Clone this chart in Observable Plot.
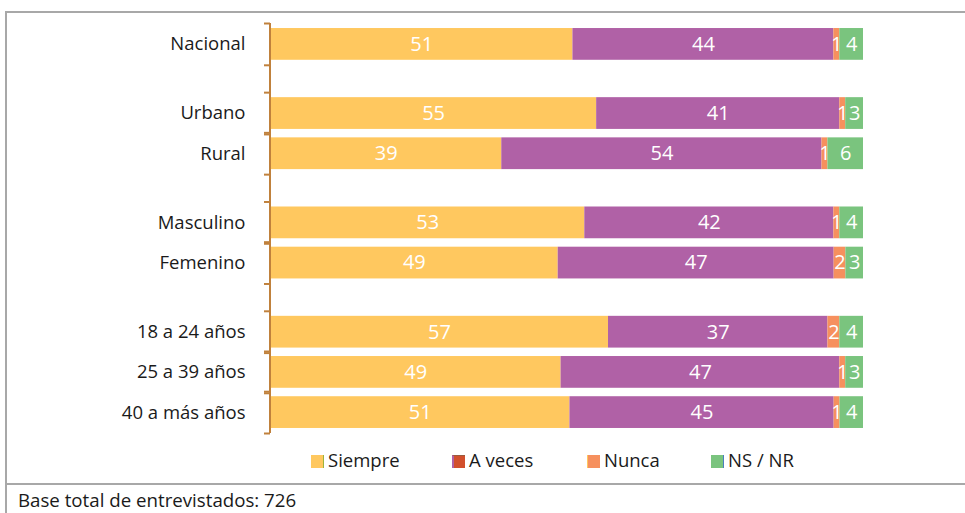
<!DOCTYPE html>
<html><head><meta charset="utf-8">
<script src="https://cdn.jsdelivr.net/npm/d3@7"></script>
<script src="https://cdn.jsdelivr.net/npm/@observablehq/plot@0.6"></script>
<style>
body{margin:0;background:#fff;font-family:"Open Sans",sans-serif;color:#1a1a1a;}
#wrap{position:relative;width:965px;height:513px;overflow:hidden;background:#fff;}
#chart{position:absolute;left:0;top:0;}
.hl{position:absolute;height:2px;background:#A8A8A8;}
.vl{position:absolute;width:2px;background:#A8A8A8;}
.leg{position:absolute;top:449px;font-size:18.5px;line-height:22px;white-space:nowrap;}
.sw{position:absolute;top:6px;width:13px;height:13px;box-sizing:border-box;}
.lt{position:absolute;left:17px;top:0;}
#footer{position:absolute;left:18px;top:488px;font-size:18.7px;line-height:24px;white-space:nowrap;}
</style></head><body>
<div id="wrap">
  <div id="chart"></div>
  <div class="hl" style="left:5px;top:11px;width:960px"></div>
  <div class="vl" style="left:5px;top:11px;height:502px"></div>
  <div class="hl" style="left:5px;top:483px;width:960px"></div>
  <div id="legend"></div>
  <div id="footer">Base total de entrevistados: 726</div>
</div>
<script>
// ---- data ----
const categories = ["Nacional", "Urbano", "Rural", "Masculino", "Femenino", "18 a 24 años", "25 a 39 años", "40 a más años"];
const groups = [0, 1, 1, 2, 2, 3, 3, 3];
const series = ["Siempre", "A veces", "Nunca", "NS / NR"];
const siempre = [51, 55, 39, 53, 49, 57, 49, 51];
const aVeces  = [44, 41, 54, 42, 47, 37, 47, 45];
const nunca   = [1, 1, 1, 1, 2, 2, 1, 1];
const nsnr    = [4, 3, 6, 4, 3, 4, 3, 4];
const colors = ["#FFC85F", "#B061A6", "#F6905E", "#7AC47E"];
const legendSwatches = ["#FFC85F", "#D2502D", "#F6905E", "#7AC47E"];

// ---- layout helpers ----
const GAP = 0.72;
const pos = categories.map((c, i) => i + GAP * groups[i]);
const half = 0.395;
const edge = 0.52;
const valuesBySeries = [siempre, aVeces, nunca, nsnr];
const rows = [];
categories.forEach((c, i) => {
  const total = d3.sum(valuesBySeries, v => v[i]);
  let acc = 0;
  series.forEach((s, k) => {
    const v = valuesBySeries[k][i];
    const x1 = acc / total * 100;
    acc += v;
    const x2 = acc / total * 100;
    rows.push({cat: c, pos: pos[i], series: s, value: v, x1, x2});
  });
});
const boundaries = [...new Set(pos.flatMap(p => [p - edge, p + edge]).map(v => +v.toFixed(3)))];
const labelOf = new Map(pos.map((p, i) => [p, categories[i]]));
const axisColor = "#C0813C";

const chart = Plot.plot({
  width: 965, height: 440,
  marginLeft: 270, marginRight: 102, marginTop: 23, marginBottom: 7,
  x: {domain: [0, 100], axis: null},
  y: {domain: [-edge, pos[pos.length - 1] + edge], reverse: true, axis: null},
  color: {domain: series, range: colors},
  style: {fontFamily: "'Open Sans', sans-serif", fontSize: "18px", color: "#1a1a1a", background: "transparent", overflow: "visible"},
  marks: [
    Plot.rectX(rows, {x1: "x1", x2: "x2", y1: d => d.pos - half, y2: d => d.pos + half, fill: "series"}),
    Plot.text(rows, {x: d => (d.x1 + d.x2) / 2, y: "pos", text: d => String(d.value), fill: "white", fontSize: 20}),
    Plot.ruleX([0], {stroke: axisColor, strokeWidth: 2, dx: -0.5}),
    Plot.axisY({ticks: boundaries, tickSize: 6, tickFormat: () => "", label: null, stroke: axisColor, strokeWidth: 2}),
    Plot.axisY({ticks: pos, tickSize: 0, tickPadding: 25, tickFormat: d => labelOf.get(d), label: null, fontSize: 18.5, fill: "#1a1a1a"})
  ]
});
document.getElementById("chart").appendChild(chart);

// ---- legend ----
const legendX = [311, 452, 587, 711];
const legendBorders = ["border-right:1px solid #9DB43C", "border-left:2px solid #B061A6;border-top:1px solid #9A5B3E", "border-left:1px solid #FFC85F", "border-right:1px solid #4A7FBF"];
const legend = document.getElementById("legend");
series.forEach((s, k) => {
  const item = document.createElement("div");
  item.className = "leg";
  item.style.left = legendX[k] + "px";
  item.innerHTML = `<span class="sw" style="background:${legendSwatches[k]};${legendBorders[k]}"></span><span class="lt">${s}</span>`;
  legend.appendChild(item);
});
</script>
</body></html>
